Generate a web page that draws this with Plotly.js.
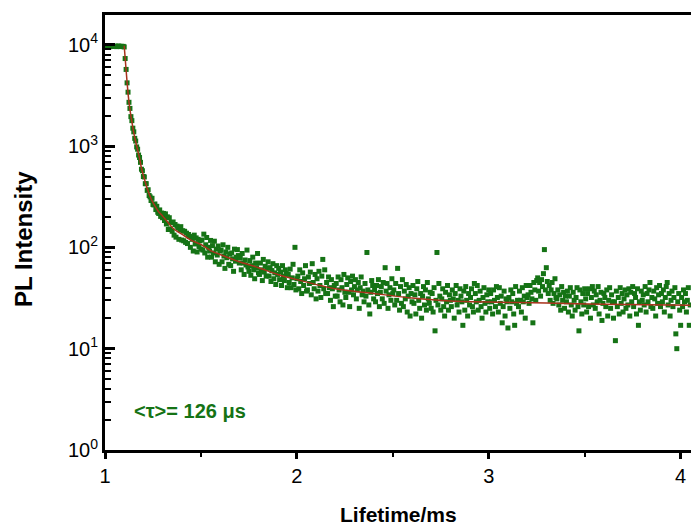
<!DOCTYPE html>
<html>
<head>
<meta charset="utf-8">
<script src="https://cdn.plot.ly/plotly-3.0.1.min.js"></script>
<style>
html,body{margin:0;padding:0;background:#fff;}
#chart{width:691px;height:525px;}
</style>
</head>
<body>
<div id="chart"></div>
<script>
// Sampling grid of the decay measurement (ms)
const timeStart = 1.0;
const timeStep = 0.005;

// PL intensity, in consecutive time windows
const plateau = [9600, 9650, 9580, 9620, 9700, 9550, 9640, 9600, 9680, 9590, 9620, 9660, 9570, 9610, 9700, 9630, 9580, 9650, 9600, 9620, 9500]; // 1.000–1.100
const decayFast = [7300, 5700, 4200, 3400, 2700, 2350, 1950, 1780, 1500, 1380, 1190, 1120, 980, 930, 815, 770, 690, 590, 570, 500]; // 1.105–1.200
const decayMid = [495, 425, 425, 365, 370, 325, 315, 290, 305, 265, 262, 268, 236, 254, 222, 216, 234, 202, 218, 196]; // 1.205–1.300
const decaySlow = [216, 184, 214, 170, 200, 150, 196, 152, 176, 144, 178, 132, 168, 126, 162, 156, 120, 150, 160, 118,
                   146, 116, 144, 112, 138, 109, 134, 128, 100, 126, 120, 92, 132, 108, 124, 90, 120, 102, 116, 96]; // 1.305–1.500
const tailA = [118, 94, 135, 88, 106, 125, 80, 100, 92, 117,
               80, 104, 88, 115, 72, 96, 84, 103, 68, 92,
               94, 72, 106, 82, 62, 90, 79, 100, 68, 86,
               66, 88, 77, 58, 96, 73, 80, 95, 83, 70,
               79, 60, 87, 70, 54, 75, 67, 94, 64, 58,
               74, 53, 66, 80, 60, 49, 70, 63, 87, 56,
               54, 70, 60, 47, 76, 57, 65, 52, 62, 72,
               52, 63, 46, 59, 69, 49, 56, 43, 66, 54,
               62, 48, 57, 42, 66, 52, 47, 60, 55, 40,
               54, 45, 61, 40, 50, 68, 43, 100, 38, 49]; // 1.505–2.000
const tailB = [52, 39, 60, 46, 35, 56, 42, 49, 66, 37,
               38, 51, 44, 57, 34, 69, 45, 39, 54, 31,
               49, 37, 58, 42, 32, 52, 76, 39, 60, 35,
               45, 35, 51, 40, 30, 48, 39, 26, 42, 33,
               44, 33, 51, 38, 29, 48, 40, 27, 54, 36,
               32, 43, 50, 36, 26, 46, 38, 52, 34, 41,
               48, 31, 38, 45, 25, 40, 51, 34, 37, 29,
               44, 33, 89, 38, 27, 22, 36, 47, 42, 31,
               38, 29, 42, 35, 48, 26, 36, 41, 31, 45,
               28, 63, 37, 44, 25, 34, 40, 30, 49, 35]; // 2.005–2.500
const tailC = [38, 27, 44, 30, 62, 35, 24, 41, 28, 48,
               26, 37, 31, 43, 23, 33, 40, 21, 35, 29,
               42, 28, 34, 22, 39, 46, 30, 25, 35, 20,
               33, 41, 27, 38, 24, 45, 31, 28, 36, 25,
               35, 23, 40, 15, 30, 89, 27, 44, 33, 24,
               31, 39, 26, 21, 36, 29, 42, 24, 34, 30,
               26, 38, 31, 20, 35, 42, 27, 30, 23, 39,
               33, 29, 17, 37, 24, 41, 30, 21, 35, 27,
               32, 39, 26, 23, 44, 35, 29, 42, 24, 30,
               37, 26, 20, 32, 40, 28, 23, 34, 29, 38]; // 2.505–3.000
const tailD = [25, 35, 29, 22, 38, 30, 26, 41, 32, 23,
               40, 28, 33, 18, 26, 37, 21, 31, 29, 16,
               32, 25, 38, 29, 35, 22, 17, 41, 28, 30,
               26, 37, 30, 23, 40, 29, 33, 20, 42, 32,
               34, 28, 42, 36, 31, 18, 45, 38, 30, 47,
               50, 37, 45, 33, 48, 41, 55, 95, 38, 63,
               46, 35, 42, 30, 38, 45, 28, 35, 49, 32,
               31, 38, 27, 34, 24, 41, 30, 36, 25, 33,
               29, 37, 23, 33, 40, 27, 21, 36, 30, 24,
               32, 40, 26, 15, 38, 29, 22, 35, 27, 39]; // 3.005–3.500
const tailE = [31, 23, 35, 26, 39, 20, 32, 41, 27, 37,
               25, 34, 29, 41, 22, 30, 36, 19, 28, 35,
               32, 26, 38, 21, 30, 40, 25, 34, 29, 20,
               29, 12, 37, 26, 32, 22, 40, 28, 35, 23,
               31, 38, 25, 34, 27, 39, 21, 36, 29, 41,
               26, 35, 32, 22, 39, 17, 29, 24, 37, 30,
               34, 27, 41, 23, 35, 29, 38, 45, 26, 32,
               25, 37, 31, 21, 40, 28, 34, 42, 26, 35,
               29, 38, 23, 32, 41, 45, 27, 35, 21, 30,
               37, 26, 32, 40, 14, 10, 29, 35, 24, 17,
               32, 26, 38, 29, 35, 23, 30, 40, 17, 27]; // 3.505–4.050

// Fitted decay curve
const fitTime = [1.10, 1.11, 1.12, 1.13, 1.14, 1.15, 1.16, 1.17, 1.18, 1.19, 1.20, 1.22, 1.24, 1.26, 1.28, 1.30,
                 1.33, 1.36, 1.40, 1.45, 1.50, 1.55, 1.60, 1.70, 1.80, 1.90, 2.00, 2.20, 2.40, 2.60, 2.80,
                 3.00, 3.30, 3.60, 4.05];
const fitIntensity = [9770, 5620, 3310, 2290, 1740, 1350, 1100, 912, 759, 603, 513, 380, 302, 257, 224, 204,
                      174, 151, 135, 117, 107, 93, 85, 72, 63, 54, 48, 39, 35, 31.6, 29.5,
                      28.8, 28.2, 27.5, 26.9];

// Axis ticks and texts
const xMajorTicks = [1, 2, 3, 4];
const xMinorTicks = [1.5, 2.5, 3.5];
const yTickVals = [1, 10, 100, 1000, 10000];
const yTickText = ['10<sup>0</sup>', '10<sup>1</sup>', '10<sup>2</sup>', '10<sup>3</sup>', '10<sup>4</sup>'];
const yMinorDigits = [2, 3, 4, 5, 6, 7, 8, 9];
const xTitle = 'Lifetime/ms';
const yTitle = 'PL Intensity';
const lifetimeLabel = '&lt;τ&gt;= 126 μs';

const intensity = [].concat(plateau, decayFast, decayMid, decaySlow, tailA, tailB, tailC, tailD, tailE);
const time = intensity.map((_, i) => +(timeStart + i * timeStep).toFixed(3));

const yMinor = [];
yTickVals.forEach(d => yMinorDigits.forEach(k => yMinor.push(k * d)));

const green = '#157315';
const red = '#a8321c';
const font = 'Liberation Sans, Arial, sans-serif';

const traces = [
  {x: time, y: intensity, type: 'scatter', mode: 'markers',
   marker: {symbol: 'square', size: 5, color: green, line: {width: 0}}, hoverinfo: 'skip'},
  {x: fitTime, y: fitIntensity, type: 'scatter', mode: 'lines',
   line: {color: red, width: 1.5, shape: 'spline', smoothing: 0.6}}
];

const layout = {
  width: 691, height: 525,
  margin: {l: 105, r: 0, t: 15, b: 75},
  paper_bgcolor: '#fff', plot_bgcolor: '#fff',
  showlegend: false,
  font: {family: font, color: '#000'},
  xaxis: {
    range: [1, 4.054], tickmode: 'array', tickvals: xMajorTicks,
    ticks: 'outside', ticklen: 6, tickwidth: 3, tickcolor: '#000',
    minor: {tickmode: 'array', tickvals: xMinorTicks, ticks: 'outside', ticklen: 4, tickwidth: 2, tickcolor: '#000', showgrid: false},
    showline: true, linewidth: 3, linecolor: '#000', mirror: true,
    showgrid: false, zeroline: false,
    tickfont: {size: 20, family: font}
  },
  yaxis: {
    type: 'log', range: [0, 4.293],
    tickmode: 'array', tickvals: yTickVals, ticktext: yTickText,
    ticks: 'inside', ticklen: 10, tickwidth: 3, tickcolor: '#000',
    minor: {tickmode: 'array', tickvals: yMinor, ticks: 'inside', ticklen: 6, tickwidth: 2, tickcolor: '#000', showgrid: false},
    showline: true, linewidth: 3, linecolor: '#000',
    showgrid: false, zeroline: false,
    tickfont: {size: 20, family: font}
  },
  annotations: [
    {xref: 'paper', yref: 'paper', x: 0.046, y: 0.09, xanchor: 'left', yanchor: 'middle',
     text: lifetimeLabel, showarrow: false,
     font: {size: 20, family: font, color: green, weight: 'bold'}},
    {xref: 'paper', yref: 'paper', x: 0.5, y: -0.149, xanchor: 'center', yanchor: 'middle',
     text: xTitle, showarrow: false,
     font: {size: 21, family: font, color: '#000', weight: 'bold'}},
    {xref: 'paper', yref: 'paper', x: -0.140, y: 0.485, xanchor: 'center', yanchor: 'middle',
     text: yTitle, textangle: -90, showarrow: false,
     font: {size: 24, family: font, color: '#000', weight: 'bold'}}
  ]
};

Plotly.newPlot('chart', traces, layout, {displayModeBar: false, staticPlot: true});
</script>
</body>
</html>
